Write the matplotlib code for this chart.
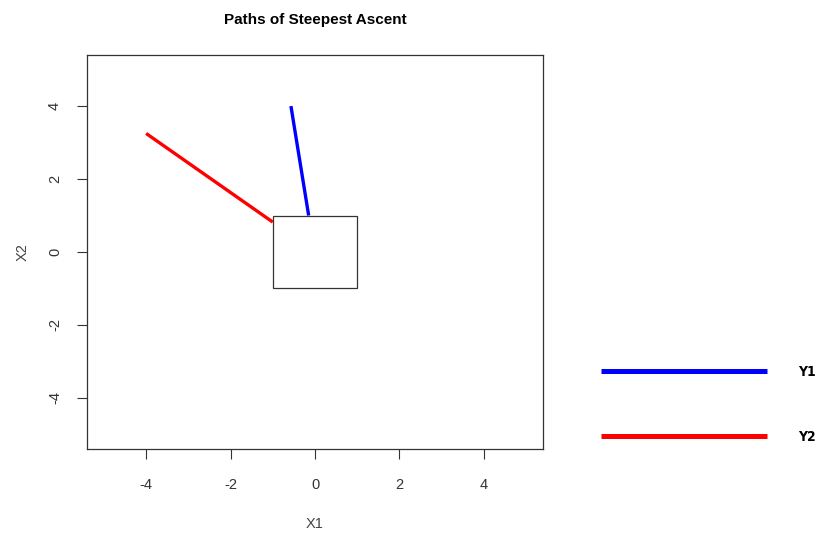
import matplotlib
matplotlib.use('Agg')
import matplotlib.pyplot as plt
from matplotlib.patches import Rectangle

# steepest-ascent paths, start (on design box) -> end
y1_x = [-0.15, -0.57]
y1_y = [1.0, 4.0]
y2_x = [-1.0, -4.0]
y2_y = [0.82, 3.25]
series = ['Y1', 'Y2']
colors = ['blue', 'red']

# design region
box_lo, box_hi = -1.0, 1.0
ticks = [-4, -2, 0, 2, 4]

plt.rcParams['font.family'] = ['Liberation Sans', 'DejaVu Sans']
plt.rcParams['axes.unicode_minus'] = False
fig = plt.figure(figsize=(8.19, 5.33), dpi=100)
ax = fig.add_axes([87/819, 1 - 449/533, (543-87)/819, (449-55)/533])

ax.add_patch(Rectangle((box_lo, box_lo), box_hi - box_lo, box_hi - box_lo,
                       fill=False, edgecolor='#333333', lw=0.9))
ax.plot(y1_x, y1_y, color=colors[0], lw=2.4, solid_capstyle='butt')
ax.plot(y2_x, y2_y, color=colors[1], lw=2.4, solid_capstyle='butt')

ax.set_xlim(-5.4, 5.4); ax.set_ylim(-5.4, 5.4)
ax.set_xticks(ticks); ax.set_yticks(ticks)
ax.tick_params(length=7, width=0.8, color='#333333', labelcolor='#333333',
               labelsize=10.5)
ax.tick_params(axis='x', pad=14)
ax.tick_params(axis='y', pad=11)
for lab in ax.get_yticklabels():
    lab.set_rotation(90); lab.set_va('center')
for s in ax.spines.values():
    s.set_color('#333333'); s.set_linewidth(0.9)
ax.set_xlabel('X1', color='#444444', fontsize=10.5, labelpad=18)
ax.set_ylabel('X2', color='#444444', fontsize=10.5, labelpad=13)
ax.set_title('Paths of Steepest Ascent', fontsize=11, fontweight='bold', pad=22)

# legend sits outside the plot on the right, like the original
leg_h = [plt.Line2D([], [], color=c, lw=3.6, solid_capstyle='butt') for c in colors]
fig.legend(leg_h, series, loc='upper left', bbox_to_anchor=(588/819, 1 - 352/533),
           frameon=False, handlelength=12.0, handletextpad=2.2, labelspacing=3.7,
           prop={'family': 'DejaVu Sans', 'weight': 'bold', 'size': 10, 'stretch': 'condensed'})

fig.savefig('out.png', dpi=100)
